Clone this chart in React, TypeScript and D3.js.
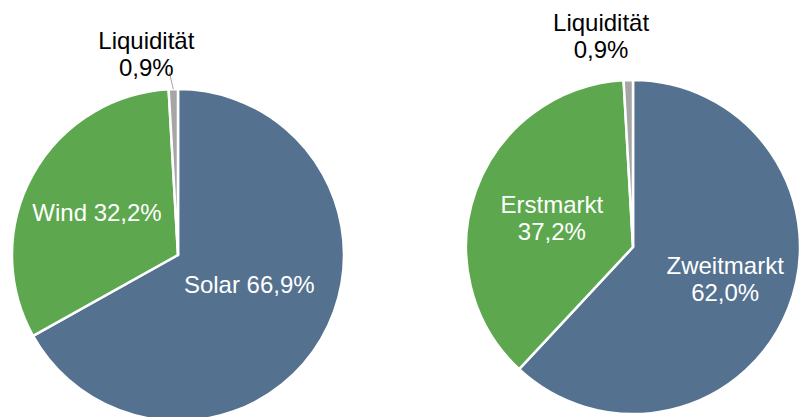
import React from 'react';
import * as d3 from 'd3';

// left pie: asset classes
const assetNames = ['Solar', 'Wind', 'Liquidität'];
const assetValues = [66.9, 32.2, 0.9];

// right pie: market
const marketNames = ['Zweitmarkt', 'Erstmarkt', 'Liquidität'];
const marketValues = [62.0, 37.2, 0.9];

const colors = ['#54718F', '#5DA84E', '#A6A6A6'];

const fmt = (v: number) => v.toFixed(1).replace('.', ',') + '%';

type LabelCfg = {
  f: number; // label radius as fraction of pie radius
  dx: number;
  dy: number;
  inside: boolean;
  lines: 1 | 2;
};

type PieProps = {
  names: string[];
  values: number[];
  cx: number;
  cy: number;
  r: number;
  labels: LabelCfg[];
  leader?: boolean;
};

const W = 800;
const H = 417;
const FONT = '"Liberation Sans", Arial, sans-serif';

const Pie: React.FC<PieProps> = ({ names, values, cx, cy, r, labels, leader }) => {
  const pie = d3.pie<number>().sort(null).value(d => d);
  const arcs = pie(values);
  const arc = d3.arc<d3.PieArcDatum<number>>().innerRadius(0).outerRadius(r);

  const at = (a: d3.PieArcDatum<number>, rad: number): [number, number] => {
    const m = (a.startAngle + a.endAngle) / 2;
    return [Math.sin(m) * rad, -Math.cos(m) * rad];
  };

  return (
    <g transform={`translate(${cx},${cy})`}>
      {arcs.map((a, i) => (
        <path key={i} d={arc(a) || ''} fill={colors[i]} stroke="#fff" strokeWidth={2.5} strokeLinejoin="round" />
      ))}
      {leader && (() => {
        const a = arcs[2];
        const p0 = at(a, r);
        const p1 = at(a, r * 1.1);
        return <line x1={p0[0]} y1={p0[1]} x2={p1[0] - 3.5} y2={p1[1]} stroke="#A6A6A6" strokeWidth={1} />;
      })()}
      {arcs.map((a, i) => {
        const c = labels[i];
        const [x0, y0] = at(a, r * c.f);
        const x = x0 + c.dx;
        const y = y0 + c.dy;
        const fill = c.inside ? '#fff' : '#000';
        if (c.lines === 1) {
          return (
            <text key={i} x={x} y={y + 8.5} textAnchor="middle" fill={fill} fontSize={24} fontFamily={FONT}>
              {names[i]} {fmt(values[i])}
            </text>
          );
        }
        return (
          <text key={i} textAnchor="middle" fill={fill} fontSize={24} fontFamily={FONT}>
            <tspan x={x} y={y - 5}>{names[i]}</tspan>
            <tspan x={x} y={y + 22}>{fmt(values[i])}</tspan>
          </text>
        );
      })}
    </g>
  );
};

export default function App() {
  return (
    <svg width={W} height={H} style={{ position: 'absolute', left: 0, top: 0, background: '#fff' }}>
      <Pie
        names={assetNames}
        values={assetValues}
        cx={178}
        cy={255}
        r={166}
        leader
        labels={[
          { f: 0.47, dx: 4, dy: -10, inside: true, lines: 1 },
          { f: 0.55, dx: -1, dy: 1.5, inside: true, lines: 1 },
          { f: 1.21, dx: -26, dy: -0.5, inside: false, lines: 2 },
        ]}
      />
      <Pie
        names={marketNames}
        values={marketValues}
        cx={633}
        cy={247}
        r={167}
        labels={[
          { f: 0.59, dx: 0.5, dy: -4, inside: true, lines: 2 },
          { f: 0.52, dx: 0.5, dy: 1, inside: true, lines: 2 },
          { f: 1.26, dx: -26, dy: -1, inside: false, lines: 2 },
        ]}
      />
    </svg>
  );
}
